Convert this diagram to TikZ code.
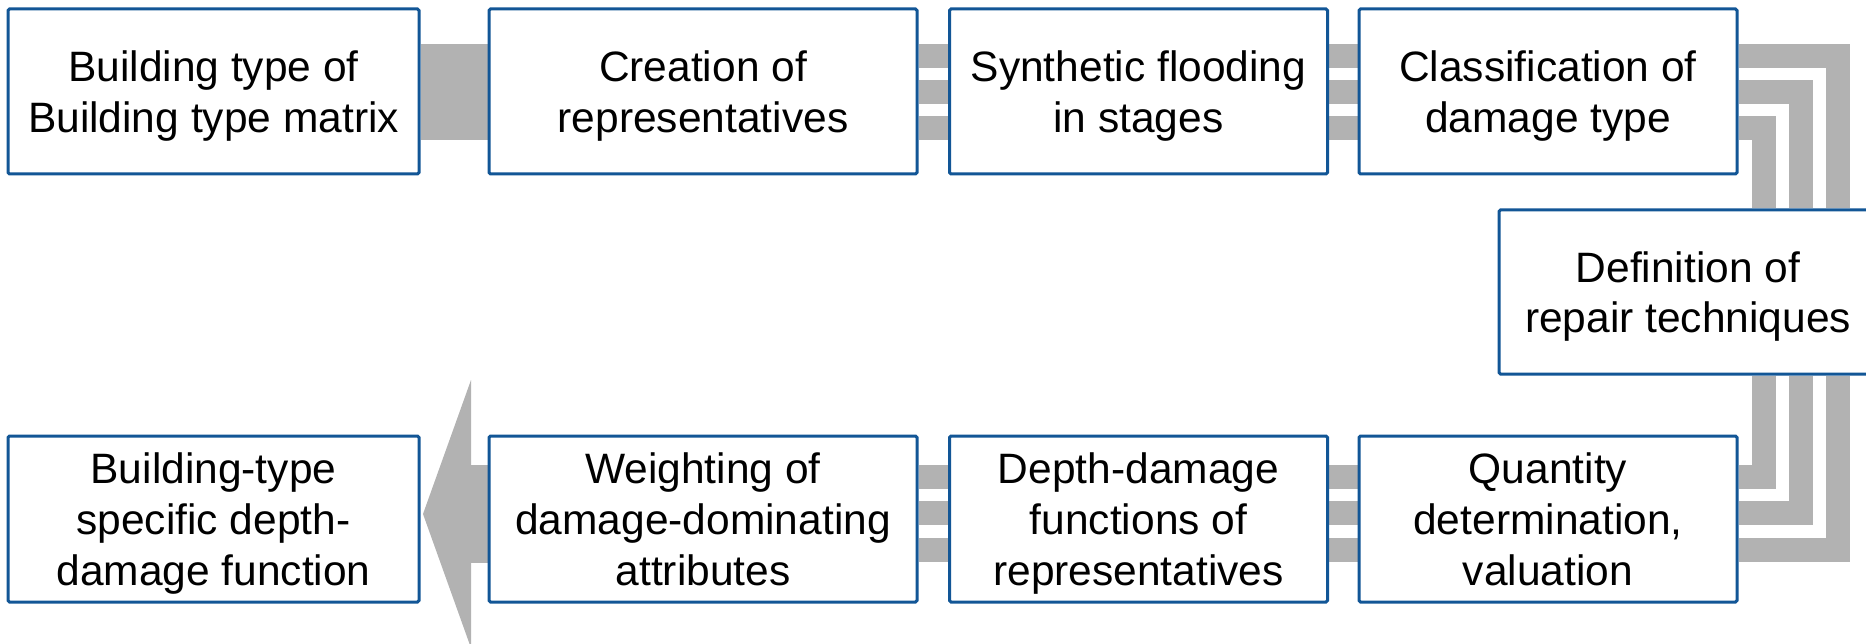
\documentclass[tikz,border=0pt]{standalone}
\usepackage{fontspec}
\setmainfont{Liberation Sans}
\usetikzlibrary{backgrounds}
\definecolor{boxblue}{RGB}{18,86,150}
\definecolor{bargray}{RGB}{178,178,178}
\newcommand{\lnstrut}{\rule[-10pt]{0pt}{51pt}}
\begin{document}
\begin{tikzpicture}[x=1pt,y=-1pt,
  stepbox/.style={draw=boxblue, line width=3pt, fill=white, rounded corners=1.5pt,
    align=center, inner sep=0pt, font=\fontsize{42.5}{51}\selectfont},
  wide/.style={minimum width=411pt},
  mid/.style={minimum width=428pt},
  narrow/.style={minimum width=378pt},
  toprow/.style={minimum height=165pt},
  botrow/.style={minimum height=166pt},
  bar/.style={draw=bargray, line width=24pt, line join=miter},
  bigbar/.style={draw=bargray, line width=96pt},
]
\useasboundingbox (0,0) rectangle (1866,644);
% top row
\node[stepbox, wide, toprow] (b1) at (213.5,91.5) {\lnstrut Building type of\\\lnstrut Building type matrix};
\node[stepbox, mid, toprow] (b2) at (703,91.5) {\lnstrut Creation of\\\lnstrut representatives};
\node[stepbox, narrow, toprow] (b3) at (1138.5,91.5) {\lnstrut Synthetic flooding\\\lnstrut in stages};
\node[stepbox, narrow, toprow] (b4) at (1548,91.5) {\lnstrut Classification of\\\lnstrut damage type};
% right
\node[stepbox, narrow, minimum height=164pt] (b5) at (1688,292) {\lnstrut Definition of\\\lnstrut repair techniques};
% bottom row
\node[stepbox, narrow, botrow] (b8) at (1548,519) {\lnstrut Quantity\\\lnstrut determination,\\\lnstrut valuation};
\node[stepbox, narrow, botrow] (b7) at (1138.5,519) {\lnstrut Depth-damage\\\lnstrut functions of\\\lnstrut representatives};
\node[stepbox, mid, botrow] (b6) at (703,519) {\lnstrut Weighting of\\\lnstrut damage-dominating\\\lnstrut attributes};
\node[stepbox, wide, botrow] (b9) at (213.5,519) {\lnstrut Building-type\\\lnstrut specific depth-\\\lnstrut damage function};
% helper coordinates
\coordinate (c1) at (1764,0);
\coordinate (c2) at (1801,0);
\coordinate (c3) at (1838,0);
\coordinate (headbase) at (471,514);
\coordinate (headtop) at (471,380);
\coordinate (headbot) at (471,648);
\coordinate (tip) at (423,514);
\begin{scope}[on background layer]
  \draw[bigbar] (b1.east |- 0,92) -- (b2.west |- 0,92);
  \foreach \yy in {56,92,128} {
    \draw[bar] (b2.east |- 0,\yy) -- (b3.west |- 0,\yy);
    \draw[bar] (b3.east |- 0,\yy) -- (b4.west |- 0,\yy);
  }
  \draw[bar] (b4.east |- 0,56) -| (c3 |- b5.north);
  \draw[bar] (b4.east |- 0,92) -| (c2 |- b5.north);
  \draw[bar] (b4.east |- 0,128) -| (c1 |- b5.north);
  \draw[bar] (c1 |- b5.south) |- (b8.east |- 0,477);
  \draw[bar] (c2 |- b5.south) |- (b8.east |- 0,513);
  \draw[bar] (c3 |- b5.south) |- (b8.east |- 0,550);
  \foreach \yy in {477,513,550} {
    \draw[bar] (b8.west |- 0,\yy) -- (b7.east |- 0,\yy);
    \draw[bar] (b7.west |- 0,\yy) -- (b6.east |- 0,\yy);
  }
  \draw[draw=bargray, line width=98pt] (b6.west |- headbase) -- (headbase);
  \fill[bargray] (headtop) -- (tip) -- (headbot) -- cycle;
\end{scope}
\end{tikzpicture}
\end{document}
